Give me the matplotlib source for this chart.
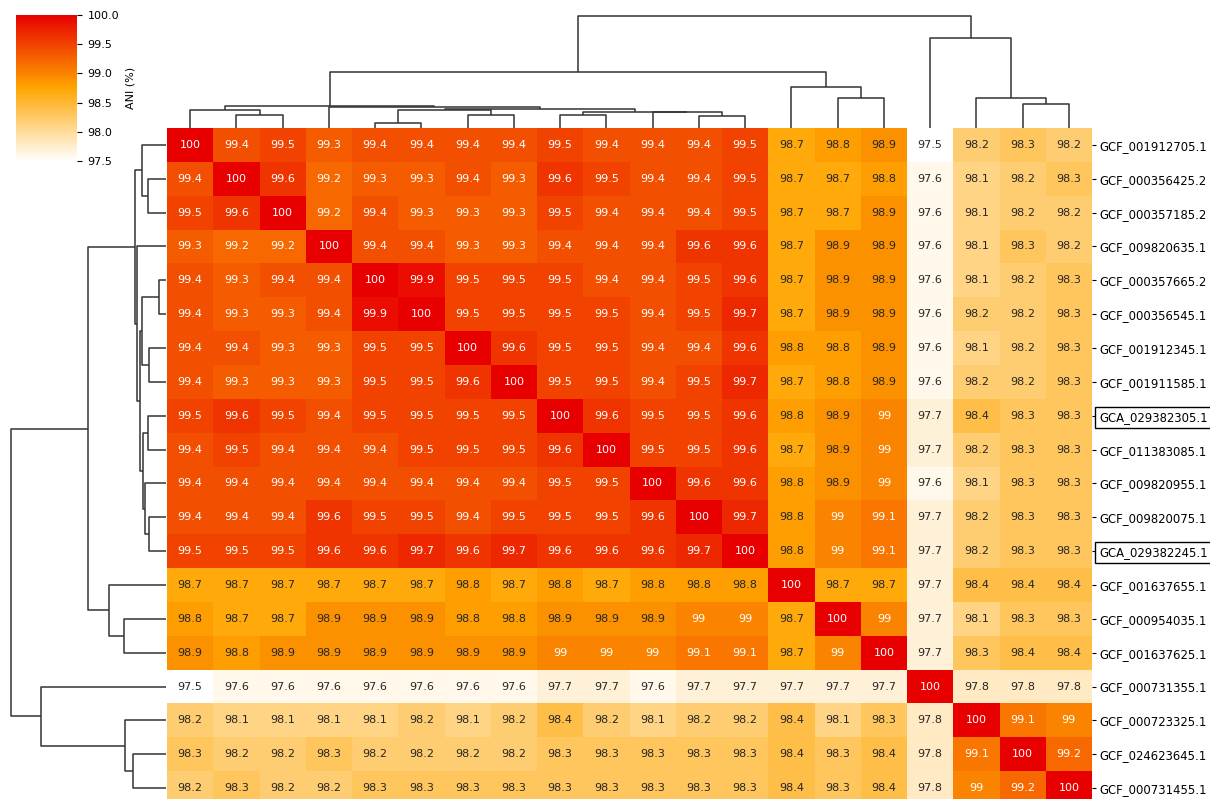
import numpy as np
import pandas as pd
import matplotlib
matplotlib.use('Agg')
import matplotlib.pyplot as plt
from matplotlib.colors import LinearSegmentedColormap
import seaborn as sns

# genome ids, in the order shown in the chart
genomes = [
    'GCF_001912705.1', 'GCF_000356425.2', 'GCF_000357185.2', 'GCF_009820635.1',
    'GCF_000357665.2', 'GCF_000356545.1', 'GCF_001912345.1', 'GCF_001911585.1',
    'GCA_029382305.1', 'GCF_011383085.1', 'GCF_009820955.1', 'GCF_009820075.1',
    'GCA_029382245.1', 'GCF_001637655.1', 'GCF_000954035.1', 'GCF_001637625.1',
    'GCF_000731355.1', 'GCF_000723325.1', 'GCF_024623645.1', 'GCF_000731455.1',
]
highlighted = ['GCA_029382305.1', 'GCA_029382245.1']

# pairwise ANI (%)
ani = [
    [100, 99.4, 99.5, 99.3, 99.4, 99.4, 99.4, 99.4, 99.5, 99.4, 99.4, 99.4, 99.5, 98.7, 98.8, 98.9, 97.5, 98.2, 98.3, 98.2],
    [99.4, 100, 99.6, 99.2, 99.3, 99.3, 99.4, 99.3, 99.6, 99.5, 99.4, 99.4, 99.5, 98.7, 98.7, 98.8, 97.6, 98.1, 98.2, 98.3],
    [99.5, 99.6, 100, 99.2, 99.4, 99.3, 99.3, 99.3, 99.5, 99.4, 99.4, 99.4, 99.5, 98.7, 98.7, 98.9, 97.6, 98.1, 98.2, 98.2],
    [99.3, 99.2, 99.2, 100, 99.4, 99.4, 99.3, 99.3, 99.4, 99.4, 99.4, 99.6, 99.6, 98.7, 98.9, 98.9, 97.6, 98.1, 98.3, 98.2],
    [99.4, 99.3, 99.4, 99.4, 100, 99.9, 99.5, 99.5, 99.5, 99.4, 99.4, 99.5, 99.6, 98.7, 98.9, 98.9, 97.6, 98.1, 98.2, 98.3],
    [99.4, 99.3, 99.3, 99.4, 99.9, 100, 99.5, 99.5, 99.5, 99.5, 99.4, 99.5, 99.7, 98.7, 98.9, 98.9, 97.6, 98.2, 98.2, 98.3],
    [99.4, 99.4, 99.3, 99.3, 99.5, 99.5, 100, 99.6, 99.5, 99.5, 99.4, 99.4, 99.6, 98.8, 98.8, 98.9, 97.6, 98.1, 98.2, 98.3],
    [99.4, 99.3, 99.3, 99.3, 99.5, 99.5, 99.6, 100, 99.5, 99.5, 99.4, 99.5, 99.7, 98.7, 98.8, 98.9, 97.6, 98.2, 98.2, 98.3],
    [99.5, 99.6, 99.5, 99.4, 99.5, 99.5, 99.5, 99.5, 100, 99.6, 99.5, 99.5, 99.6, 98.8, 98.9, 99, 97.7, 98.4, 98.3, 98.3],
    [99.4, 99.5, 99.4, 99.4, 99.4, 99.5, 99.5, 99.5, 99.6, 100, 99.5, 99.5, 99.6, 98.7, 98.9, 99, 97.7, 98.2, 98.3, 98.3],
    [99.4, 99.4, 99.4, 99.4, 99.4, 99.4, 99.4, 99.4, 99.5, 99.5, 100, 99.6, 99.6, 98.8, 98.9, 99, 97.6, 98.1, 98.3, 98.3],
    [99.4, 99.4, 99.4, 99.6, 99.5, 99.5, 99.4, 99.5, 99.5, 99.5, 99.6, 100, 99.7, 98.8, 99, 99.1, 97.7, 98.2, 98.3, 98.3],
    [99.5, 99.5, 99.5, 99.6, 99.6, 99.7, 99.6, 99.7, 99.6, 99.6, 99.6, 99.7, 100, 98.8, 99, 99.1, 97.7, 98.2, 98.3, 98.3],
    [98.7, 98.7, 98.7, 98.7, 98.7, 98.7, 98.8, 98.7, 98.8, 98.7, 98.8, 98.8, 98.8, 100, 98.7, 98.7, 97.7, 98.4, 98.4, 98.4],
    [98.8, 98.7, 98.7, 98.9, 98.9, 98.9, 98.8, 98.8, 98.9, 98.9, 98.9, 99, 99, 98.7, 100, 99, 97.7, 98.1, 98.3, 98.3],
    [98.9, 98.8, 98.9, 98.9, 98.9, 98.9, 98.9, 98.9, 99, 99, 99, 99.1, 99.1, 98.7, 99, 100, 97.7, 98.3, 98.4, 98.4],
    [97.5, 97.6, 97.6, 97.6, 97.6, 97.6, 97.6, 97.6, 97.7, 97.7, 97.6, 97.7, 97.7, 97.7, 97.7, 97.7, 100, 97.8, 97.8, 97.8],
    [98.2, 98.1, 98.1, 98.1, 98.1, 98.2, 98.1, 98.2, 98.4, 98.2, 98.1, 98.2, 98.2, 98.4, 98.1, 98.3, 97.8, 100, 99.1, 99],
    [98.3, 98.2, 98.2, 98.3, 98.2, 98.2, 98.2, 98.2, 98.3, 98.3, 98.3, 98.3, 98.3, 98.4, 98.3, 98.4, 97.8, 99.1, 100, 99.2],
    [98.2, 98.3, 98.2, 98.2, 98.3, 98.3, 98.3, 98.3, 98.3, 98.3, 98.3, 98.3, 98.3, 98.4, 98.3, 98.4, 97.8, 99, 99.2, 100],
]

df = pd.DataFrame(ani, index=genomes, columns=genomes)


def average_linkage(X):
    # plain UPGMA on euclidean distances between rows (no scipy here)
    n = len(X)
    D = np.sqrt(((X[:, None, :] - X[None, :, :]) ** 2).sum(-1))
    active = {i: [i] for i in range(n)}
    merges = []
    next_id = n
    while len(active) > 1:
        ids = sorted(active)
        best = None
        for i, a in enumerate(ids):
            for b in ids[i + 1:]:
                d = D[np.ix_(active[a], active[b])].mean()
                if best is None or d < best[2] - 1e-12:
                    best = (a, b, d)
        a, b, d = best
        merges.append((a, b, d))
        active[next_id] = active.pop(a) + active.pop(b)
        next_id += 1
    return merges


def draw_dendrogram(ax, merges, n, orientation):
    pos = {i: i + 0.5 for i in range(n)}
    hgt = {i: 0.0 for i in range(n)}
    node = n
    for a, b, d in merges:
        xs = [pos[a], pos[a], pos[b], pos[b]]
        ys = [hgt[a], d, d, hgt[b]]
        if orientation == 'left':
            ax.plot(ys, xs, color='#333333', lw=1.1, solid_capstyle='butt')
        else:
            ax.plot(xs, ys, color='#333333', lw=1.1, solid_capstyle='butt')
        pos[node] = (pos[a] + pos[b]) / 2
        hgt[node] = d
        node += 1
    top = max(hgt.values()) * 1.05
    if orientation == 'left':
        ax.set_xlim(top, 0)
        ax.set_ylim(n, 0)
    else:
        ax.set_xlim(0, n)
        ax.set_ylim(0, top)
    ax.axis('off')


values = df.values.astype(float)
row_merges = average_linkage(values)
col_merges = average_linkage(values.T)

cmap = LinearSegmentedColormap.from_list('ani', ['#ffffff', '#ffa500', '#e80000'])

W, H = 1210, 799
fig = plt.figure(figsize=(W / 100, H / 100), dpi=100)


def px_axes(x0, y0, x1, y1):
    return fig.add_axes([x0 / W, 1 - y1 / H, (x1 - x0) / W, (y1 - y0) / H])


ax_heat = px_axes(167, 128, 1092, 805)
ax_row = px_axes(3, 128, 166, 805)
ax_col = px_axes(167, 10, 1092, 128)
ax_cbar = px_axes(16, 15, 77, 161)

sns.heatmap(df, ax=ax_heat, cmap=cmap, annot=True, fmt='g',
            annot_kws={'size': 8}, cbar_ax=ax_cbar,
            cbar_kws={'ticks': np.arange(97.5, 100.01, 0.5)},
            xticklabels=False, yticklabels=True)

ax_heat.yaxis.tick_right()
ax_heat.set_ylabel('')
ax_heat.tick_params(axis='y', labelsize=8.4, length=3, width=0.8, pad=2, rotation=0)
for lab in ax_heat.get_yticklabels():
    if lab.get_text() in highlighted:
        lab.set_bbox(dict(boxstyle='square,pad=0.35', fc='white', ec='black', lw=1))

ax_cbar.tick_params(labelsize=8, length=3.5, width=0.8, pad=4)
ax_cbar.yaxis.set_major_formatter(matplotlib.ticker.FormatStrFormatter('%.1f'))
ax_cbar.set_ylabel('ANI (%)', fontsize=8, labelpad=5)

draw_dendrogram(ax_row, row_merges, len(genomes), 'left')
draw_dendrogram(ax_col, col_merges, len(genomes), 'top')

fig.savefig('out.png', dpi=100)
